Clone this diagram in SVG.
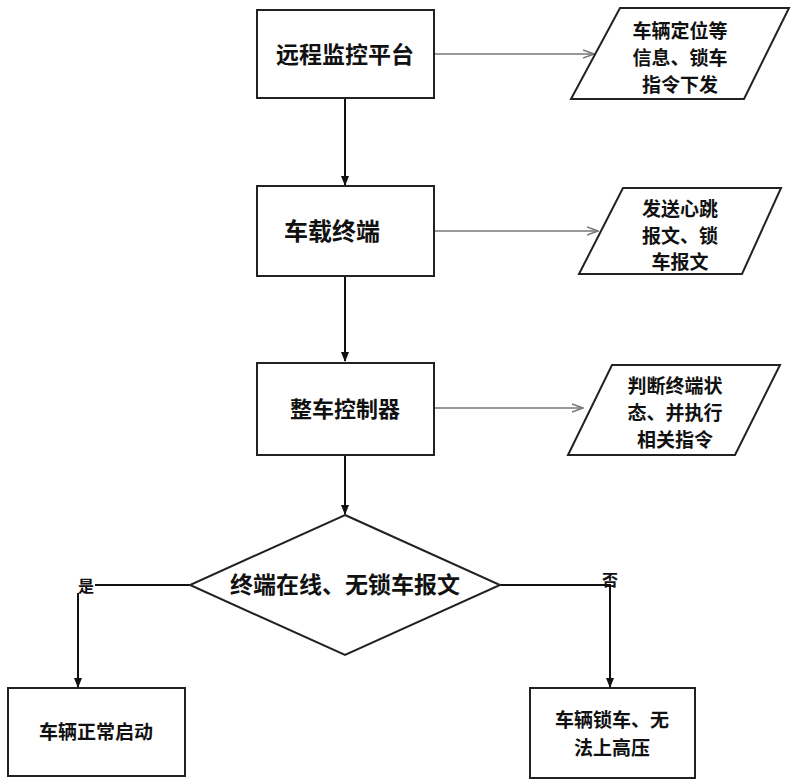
<svg xmlns="http://www.w3.org/2000/svg" width="800" height="784" viewBox="0 0 800 784">
<style>
.b{fill:#fff;stroke:#222;stroke-width:2}
.t{font-family:"Noto Sans CJK SC",sans-serif;font-weight:bold;fill:#111;text-anchor:middle}
.c{fill:none;stroke:#111;stroke-width:2}
.g{fill:none;stroke:#777;stroke-width:1.5}
</style>
<defs>
<marker id="a" markerWidth="10" markerHeight="10" refX="9" refY="5" orient="auto" markerUnits="userSpaceOnUse"><path d="M0,1 L10,5 L0,9 z" fill="#111"/></marker>
<marker id="ga" markerWidth="12" markerHeight="10" refX="11" refY="5" orient="auto" markerUnits="userSpaceOnUse"><path d="M0,1 L11,5 L0,9" fill="none" stroke="#777" stroke-width="1.5"/></marker>
</defs>
<rect width="800" height="784" fill="#fff"/>
<g id="connectors">
<line class="g" x1="434" y1="54" x2="594" y2="54" marker-end="url(#ga)"/>
<line class="g" x1="434" y1="231" x2="598" y2="231" marker-end="url(#ga)"/>
<line class="g" x1="434" y1="408" x2="583" y2="408" marker-end="url(#ga)"/>
<line class="c" x1="345" y1="98" x2="345" y2="185" marker-end="url(#a)"/>
<line class="c" x1="345" y1="276" x2="345" y2="361" marker-end="url(#a)"/>
<line class="c" x1="345" y1="455" x2="345" y2="514" marker-end="url(#a)"/>
<polyline class="c" points="190,585 78,585 78,687" marker-end="url(#a)"/>
<polyline class="c" points="500,585 610,585 610,687" marker-end="url(#a)"/>
<rect x="77" y="577" width="18" height="16" fill="#fff"/>
<text class="t" x="86" y="592" font-size="16">是</text>
<text class="t" x="610" y="586" font-size="16">否</text>
</g>
<g id="n1"><rect class="b" x="257" y="10" width="177" height="88"/><text class="t" x="345" y="63" font-size="23">远程监控平台</text></g>
<g id="p1"><polygon class="b" points="620,8 789,8 744,99 571,99"/><text class="t" font-size="19"><tspan x="680" y="38">车辆定位等</tspan><tspan x="680" y="65">信息、锁车</tspan><tspan x="680" y="92">指令下发</tspan></text></g>
<g id="n2"><rect class="b" x="257" y="186" width="177" height="90"/><text class="t" x="332" y="240" font-size="24">车载终端</text></g>
<g id="p2"><polygon class="b" points="623,188 781,188 742,274 579,274"/><text class="t" font-size="19"><tspan x="680" y="216">发送心跳</tspan><tspan x="680" y="243">报文、锁</tspan><tspan x="680" y="269">车报文</tspan></text></g>
<g id="n3"><rect class="b" x="257" y="363" width="177" height="92"/><text class="t" x="345" y="417" font-size="22">整车控制器</text></g>
<g id="p3"><polygon class="b" points="612,365 780,365 735,455 568,455"/><text class="t" font-size="19"><tspan x="675" y="393">判断终端状</tspan><tspan x="675" y="420">态、并执行</tspan><tspan x="675" y="447">相关指令</tspan></text></g>
<g id="d"><polygon class="b" points="345,515 500,585 345,655 190,585"/><text class="t" x="345" y="593" font-size="23">终端在线、无锁车报文</text></g>
<g id="n4"><rect class="b" x="8" y="688" width="177" height="88"/><text class="t" x="96" y="739" font-size="19">车辆正常启动</text></g>
<g id="n5"><rect class="b" x="530" y="688" width="165" height="90"/><text class="t" font-size="19"><tspan x="612" y="727">车辆锁车、无</tspan><tspan x="612" y="755">法上高压</tspan></text></g>
</svg>
